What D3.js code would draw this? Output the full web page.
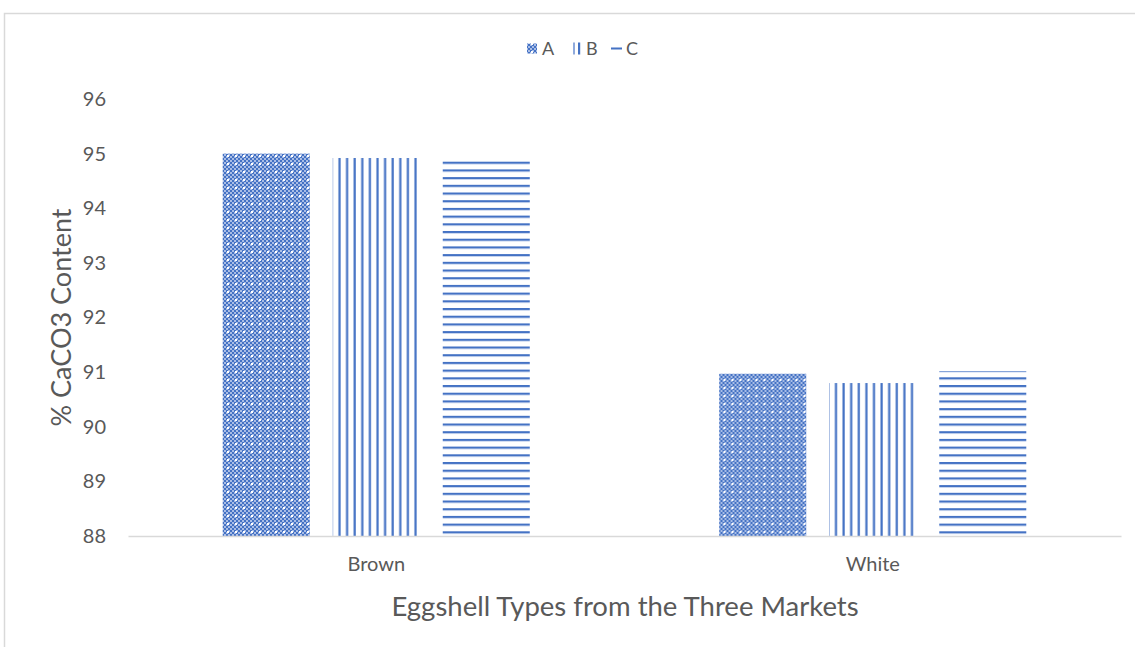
<!DOCTYPE html>
<html>
<head>
<meta charset="utf-8">
<script src="https://cdn.jsdelivr.net/npm/d3@7"></script>
<style>
  html, body { margin: 0; padding: 0; background: #fff; }
  svg { display: block; font-family: Lato, "Open Sans", sans-serif; }
</style>
</head>
<body>
<svg id="chart" width="1135" height="647"></svg>
<script>
// Eggshell CaCO3 content by type and market
const categories = ["Brown", "White"];
const markets = ["A", "B", "C"];
const seriesA = [95.0, 90.97];
const seriesB = [94.92, 90.80];
const seriesC = [94.89, 91.02];
const yTicks = [88, 89, 90, 91, 92, 93, 94, 95, 96];

const values = { A: seriesA, B: seriesB, C: seriesC };
const rows = categories.map((c, i) => ({
  category: c,
  items: markets.map(m => ({ market: m, value: values[m][i] }))
}));

const svg = d3.select("#chart");
const blue = "#4472C4";
const textColor = "#595959";

// chart frame
svg.append("rect")
  .attr("x", 4.5).attr("y", 13.5)
  .attr("width", 1140).attr("height", 650)
  .attr("fill", "none").attr("stroke", "#d9d9d9").attr("stroke-width", 1.5);

// fill patterns
const defs = svg.append("defs");

const pA = defs.append("pattern").attr("id", "pat-A")
  .attr("patternUnits", "userSpaceOnUse").attr("width", 8).attr("height", 8);
pA.append("rect").attr("width", 8).attr("height", 8).attr("fill", "#a9bde6");
for (let i = 0; i < 4; i++) {
  for (let j = 0; j < 4; j++) {
    if ((i + j) % 2 === 0) {
      pA.append("rect").attr("x", i * 2).attr("y", j * 2)
        .attr("width", 2).attr("height", 2).attr("fill", blue);
    }
  }
}
pA.append("rect").attr("x", 3).attr("y", 3).attr("width", 2).attr("height", 2).attr("fill", "#ffffff");

const pB = defs.append("pattern").attr("id", "pat-B")
  .attr("patternUnits", "userSpaceOnUse").attr("width", 7.6).attr("height", 8);
pB.append("rect").attr("width", 7.6).attr("height", 8).attr("fill", "#ffffff");
pB.append("rect").attr("x", 5.2).attr("y", 0).attr("width", 2.2).attr("height", 8).attr("fill", blue);

const pC = defs.append("pattern").attr("id", "pat-C")
  .attr("patternUnits", "userSpaceOnUse").attr("width", 8).attr("height", 7.7);
pC.append("rect").attr("width", 8).attr("height", 7.7).attr("fill", "#ffffff");
pC.append("rect").attr("x", 0).attr("y", 0).attr("width", 8).attr("height", 2.2).attr("fill", blue);

// scales
const plot = { left: 128, right: 1121, top: 99, bottom: 536 };
const x0 = d3.scaleBand().domain(categories).range([plot.left, plot.right]).padding(0);
const x1 = d3.scaleBand().domain(markets).range([0, x0.bandwidth()])
  .paddingInner(0.209).paddingOuter(0.861);
const y = d3.scaleLinear().domain([88, 96]).range([plot.bottom, plot.top]);

// bars
const groups = svg.append("g").selectAll("g").data(rows).join("g")
  .attr("transform", d => `translate(${x0(d.category)},0)`);
groups.selectAll("rect").data(d => d.items).join("rect")
  .attr("x", d => x1(d.market))
  .attr("y", d => y(d.value))
  .attr("width", x1.bandwidth())
  .attr("height", d => y(88) - y(d.value))
  .attr("fill", d => `url(#pat-${d.market})`);

// y axis labels
const yAxis = svg.append("g").attr("transform", `translate(${plot.left},0)`)
  .call(d3.axisLeft(y).tickValues(yTicks).tickFormat(d3.format("d")).tickSize(0).tickPadding(22));
yAxis.select(".domain").remove();
yAxis.selectAll("text").attr("fill", textColor).style("font-size", "20px")
  .style("font-family", "Lato, 'Open Sans', sans-serif");

// x axis
const xAxis = svg.append("g").attr("transform", `translate(0,${plot.bottom})`)
  .call(d3.axisBottom(x0).tickSize(0).tickPadding(21));
xAxis.select(".domain").attr("stroke", "#d9d9d9").attr("stroke-width", 1.5);
xAxis.selectAll("text").attr("fill", textColor).style("font-size", "20px")
  .style("font-family", "Lato, 'Open Sans', sans-serif");

// axis titles
svg.append("text")
  .attr("transform", `translate(71,${(plot.top + plot.bottom) / 2}) rotate(-90)`)
  .attr("text-anchor", "middle").attr("fill", textColor)
  .style("font-size", "27px").text("% CaCO3 Content");
svg.append("text")
  .attr("x", 625).attr("y", 616)
  .attr("text-anchor", "middle").attr("fill", textColor)
  .style("font-size", "27.5px").text("Eggshell Types from the Three Markets");

// legend
const legendItems = [
  { key: "A", sx: 527, tx: 542 },
  { key: "B", sx: 573, tx: 586 },
  { key: "C", sx: 611, tx: 626 }
];
const legend = svg.append("g");
legendItems.forEach(it => {
  if (it.key === "A") {
    legend.append("rect").attr("x", it.sx).attr("y", 43.5).attr("width", 10).attr("height", 10)
      .attr("fill", "url(#pat-A)");
  } else if (it.key === "B") {
    legend.append("rect").attr("x", it.sx).attr("y", 42.5).attr("width", 2).attr("height", 12).attr("fill", "#8faadc");
    legend.append("rect").attr("x", it.sx + 5).attr("y", 42.5).attr("width", 2.2).attr("height", 12).attr("fill", blue);
  } else {
    legend.append("rect").attr("x", it.sx).attr("y", 47.5).attr("width", 11).attr("height", 2).attr("fill", blue);
  }
  legend.append("text").attr("x", it.tx).attr("y", 55).attr("fill", textColor)
    .style("font-size", "18px").text(it.key);
});
</script>
</body>
</html>
